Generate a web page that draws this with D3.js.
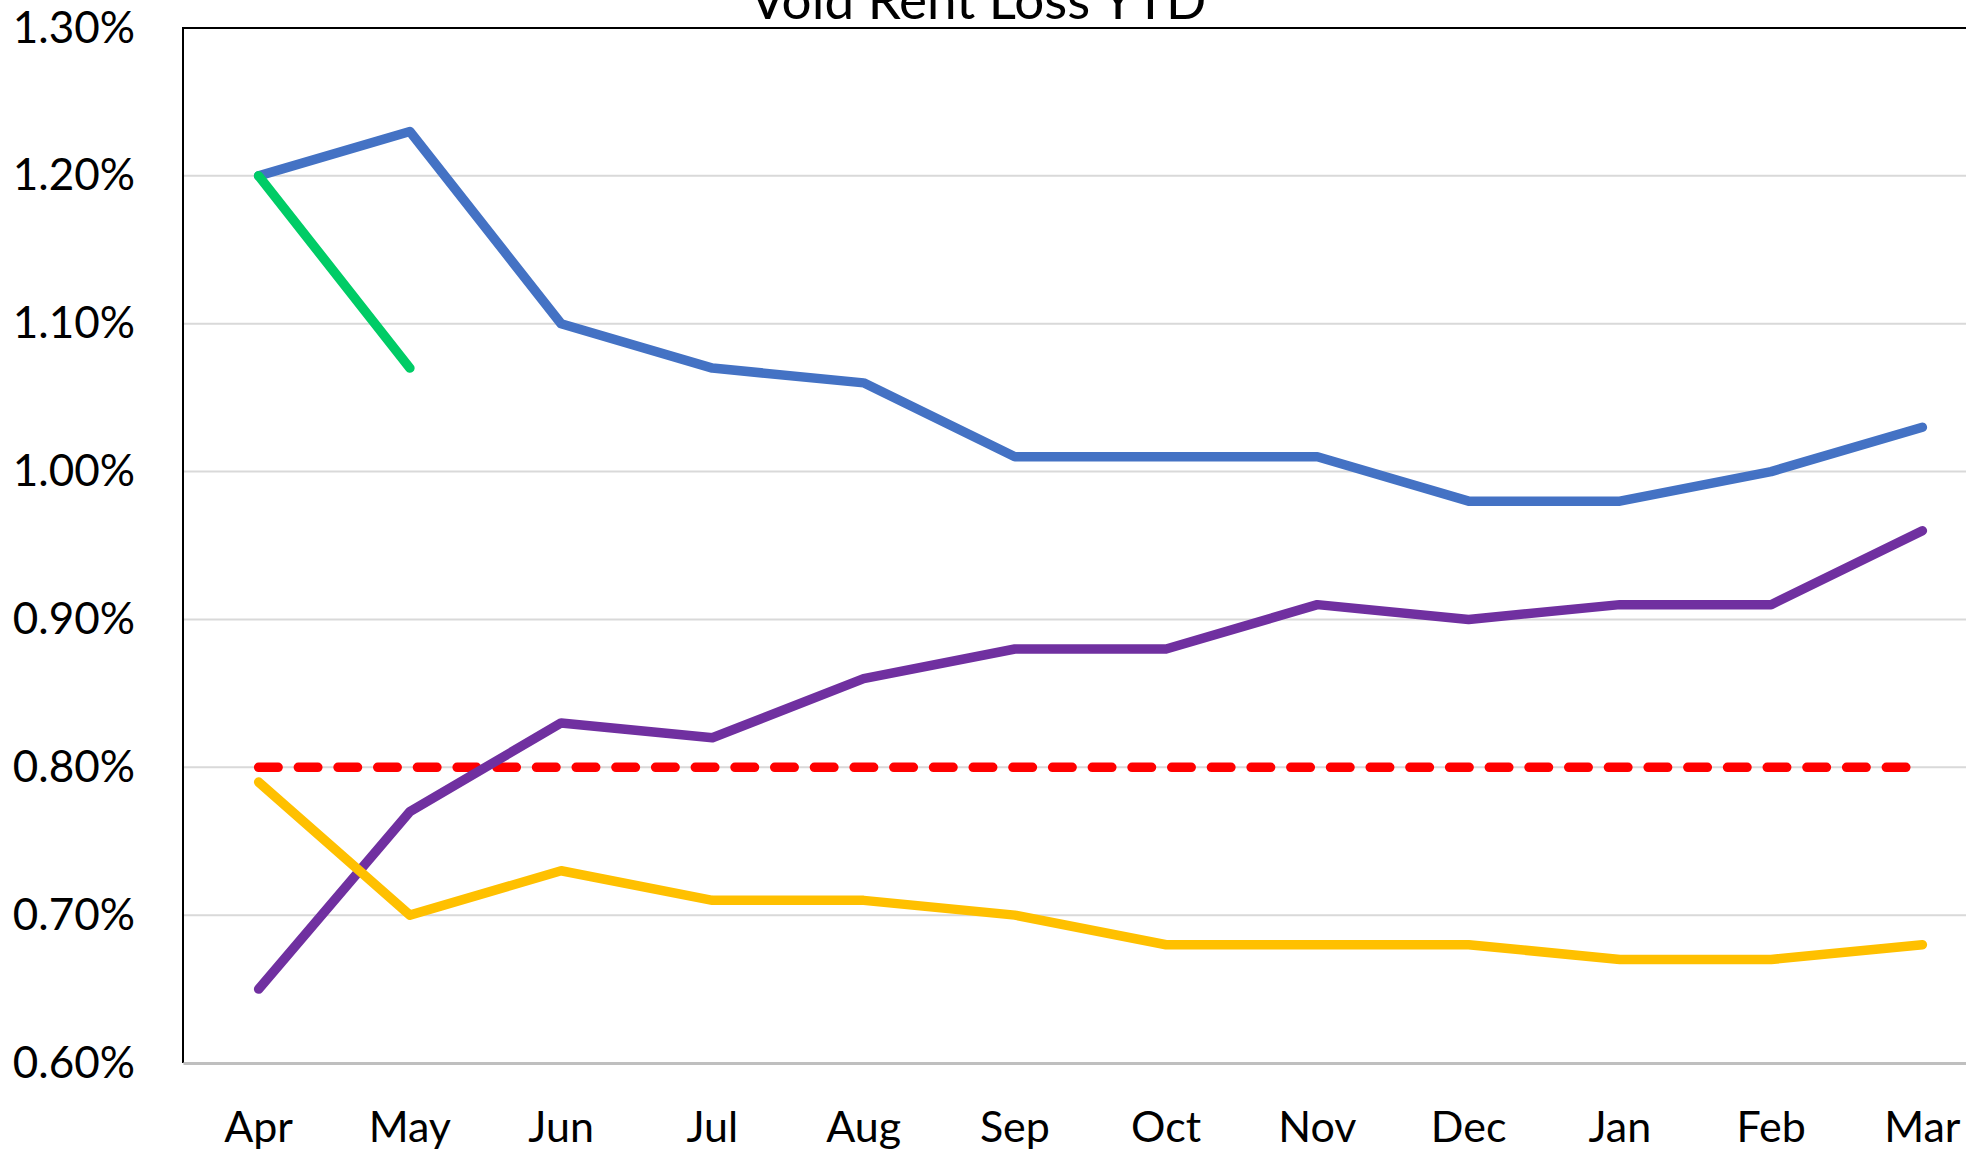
<!doctype html>
<meta charset="utf-8">

<style>
    body {
        margin: 0;
        background: #fff;
    }
    text {
        font-family: Lato, sans-serif;
        fill: #000;
    }
</style>

<div id="chart"></div>

<script src="https://d3js.org/d3.v7.min.js"></script>

<script>

let months = ["Apr", "May", "Jun", "Jul", "Aug", "Sep", "Oct", "Nov", "Dec", "Jan", "Feb", "Mar"]
let yTicks = [0.006, 0.007, 0.008, 0.009, 0.010, 0.011, 0.012, 0.013]

let blueLine   = [1.20, 1.23, 1.10, 1.07, 1.06, 1.01, 1.01, 1.01, 0.98, 0.98, 1.00, 1.03]
let purpleLine = [0.65, 0.77, 0.83, 0.82, 0.86, 0.88, 0.88, 0.91, 0.90, 0.91, 0.91, 0.96]
let yellowLine = [0.79, 0.70, 0.73, 0.71, 0.71, 0.70, 0.68, 0.68, 0.68, 0.67, 0.67, 0.68]
let greenLine  = [1.20, 1.07]
let targetLine = [0.80, 0.80, 0.80, 0.80, 0.80, 0.80, 0.80, 0.80, 0.80, 0.80, 0.80, 0.80]

let width = 1966, height = 1150
let margin = {top: 28, left: 183, bottom: 87}
let plotWidth = 1815
let plotHeight = height - margin.top - margin.bottom

let svg = d3.select("#chart")
    .append("svg")
    .attr("width", width)
    .attr("height", height)

let xScale = d3.scaleBand()
    .domain(months)
    .range([margin.left, margin.left + plotWidth])

let yScale = d3.scaleLinear()
    .domain([0.006, 0.013])
    .range([margin.top + plotHeight, margin.top])

let cx = m => xScale(m) + xScale.bandwidth() / 2

// gridlines
svg.append("g")
    .selectAll("line")
    .data(yTicks.slice(1, -1))
    .join("line")
    .attr("x1", margin.left)
    .attr("x2", margin.left + plotWidth)
    .attr("y1", d => yScale(d))
    .attr("y2", d => yScale(d))
    .style("stroke", "#d9d9d9")
    .style("stroke-width", 2)

// plot frame (left + top) and the bottom axis
svg.append("path")
    .attr("d", `M${margin.left},${margin.top + plotHeight} V${margin.top} H${margin.left + plotWidth}`)
    .style("fill", "none")
    .style("stroke", "#000")
    .style("stroke-width", 2)

let xAxis = d3.axisBottom(xScale).tickSize(0).tickPadding(48)
let xg = svg.append("g")
    .attr("transform", "translate(0," + (margin.top + plotHeight) + ")")
    .call(xAxis)
xg.select(".domain").style("stroke", "#bfbfbf").style("stroke-width", 3)
xg.selectAll("text").style("font-size", "43px").style("font-family", "Lato, sans-serif")

let yAxis = d3.axisLeft(yScale).tickValues(yTicks).tickSize(0).tickPadding(48).tickFormat(d3.format(".2%"))
let yg = svg.append("g")
    .attr("transform", "translate(" + margin.left + ",0)")
    .call(yAxis)
yg.select(".domain").remove()
yg.selectAll("text").style("font-size", "44px").style("font-family", "Lato, sans-serif")

let line = d3.line()
    .x((d, i) => cx(months[i]))
    .y(d => yScale(d / 100))

let series = [
    {values: blueLine, color: "#4472c4"},
    {values: purpleLine, color: "#7030a0"},
    {values: yellowLine, color: "#ffc000"},
    {values: greenLine, color: "#00cc66"},
]

svg.append("path")
    .datum(targetLine)
    .attr("d", line)
    .style("fill", "none")
    .style("stroke", "#ff0000")
    .style("stroke-width", 9.5)
    .style("stroke-linecap", "round")
    .style("stroke-dasharray", "19.5 20.2")

svg.append("g")
    .selectAll("path")
    .data(series)
    .join("path")
    .attr("d", d => line(d.values))
    .style("fill", "none")
    .style("stroke", d => d.color)
    .style("stroke-width", 9.5)
    .style("stroke-linecap", "round")
    .style("stroke-linejoin", "round")

svg.append("text")
    .attr("x", 978)
    .attr("y", 19)
    .style("text-anchor", "middle")
    .style("font-size", "53px")
    .text("Void Rent Loss YTD")

</script>
